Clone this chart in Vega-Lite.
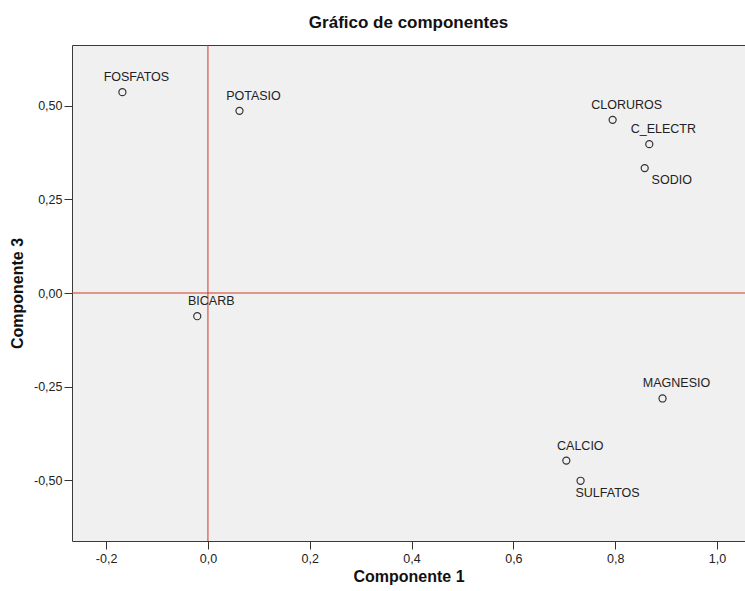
{
  "$schema": "https://vega.github.io/schema/vega-lite/v6.json",
  "autosize": "none",
  "padding": {"left": 72, "top": 45, "right": 0, "bottom": 50},
  "width": 673,
  "height": 496,
  "background": "white",
  "config": {
    "font": "Liberation Sans",
    "view": {"fill": "#f0f0f0", "stroke": "#3a3a3a", "strokeWidth": 1}
  },
  "title": {"text": "Gráfico de componentes", "fontSize": 17, "fontWeight": "bold", "color": "#111", "offset": 13, "font": "Liberation Sans"},
  "datasets": {
    "loadings": [
      {"variable": "FOSFATOS", "c1": -0.168, "c3": 0.537},
      {"variable": "POTASIO", "c1": 0.062, "c3": 0.487},
      {"variable": "CLORUROS", "c1": 0.795, "c3": 0.463},
      {"variable": "C_ELECTR", "c1": 0.867, "c3": 0.398},
      {"variable": "SODIO", "c1": 0.858, "c3": 0.334},
      {"variable": "BICARB", "c1": -0.021, "c3": -0.062},
      {"variable": "MAGNESIO", "c1": 0.893, "c3": -0.282},
      {"variable": "CALCIO", "c1": 0.704, "c3": -0.448},
      {"variable": "SULFATOS", "c1": 0.732, "c3": -0.502}
    ],
    "origin": [{"c1": 0, "c3": 0}]
  },
  "data": {"name": "loadings"},
  "encoding": {
    "x": {"field": "c1", "type": "quantitative", "title": "Componente 1",
      "scale": {"domain": [-0.267, 1.055], "nice": false, "zero": false},
      "axis": {"values": [-0.2, 0, 0.2, 0.4, 0.6, 0.8, 1.0], "grid": false, "domain": false,
        "tickColor": "#333", "tickSize": 8, "labelFontSize": 12.5, "labelColor": "#222", "labelPadding": 3,
        "labelExpr": "replace(replace(format(datum.value, '.1f'), '.', ','), '\u2212', '-')",
        "titleFontSize": 16, "titleFontWeight": "bold", "titleColor": "#111", "titlePadding": 4}},
    "y": {"field": "c3", "type": "quantitative", "title": "Componente 3",
      "scale": {"domain": [-0.663, 0.663], "nice": false, "zero": false},
      "axis": {"values": [-0.5, -0.25, 0, 0.25, 0.5], "grid": false, "domain": false,
        "tickColor": "#333", "tickSize": 8, "labelFontSize": 12.5, "labelColor": "#222", "labelPadding": 2,
        "labelExpr": "replace(replace(format(datum.value, '.2f'), '.', ','), '\u2212', '-')",
        "titleFontSize": 16, "titleFontWeight": "bold", "titleColor": "#111", "titlePadding": 8}}
  },
  "layer": [
    {"data": {"name": "origin"}, "mark": {"type": "rule", "stroke": "#d03a22", "color": "#d03a22", "strokeWidth": 1}, "encoding": {"x": {"field": "c1", "type": "quantitative"}, "y": null}},
    {"data": {"name": "origin"}, "mark": {"type": "rule", "stroke": "#d03a22", "color": "#d03a22", "strokeWidth": 1}, "encoding": {"y": {"field": "c3", "type": "quantitative"}, "x": null}},
    {"mark": {"type": "point", "shape": "circle", "filled": false, "stroke": "#333", "strokeWidth": 1.2, "size": 50, "opacity": 1}},
    {"transform": [{"filter": {"not": {"field": "variable", "oneOf": ["SODIO", "SULFATOS"]}}}],
      "mark": {"type": "text", "align": "center", "baseline": "middle", "dx": 14, "dy": -15, "fontSize": 12.5, "color": "#222"},
      "encoding": {"text": {"field": "variable"}}},
    {"transform": [{"filter": {"field": "variable", "oneOf": ["SODIO", "SULFATOS"]}}],
      "mark": {"type": "text", "align": "center", "baseline": "middle", "dx": 27, "dy": 12, "fontSize": 12.5, "color": "#222"},
      "encoding": {"text": {"field": "variable"}}}
  ]
}
